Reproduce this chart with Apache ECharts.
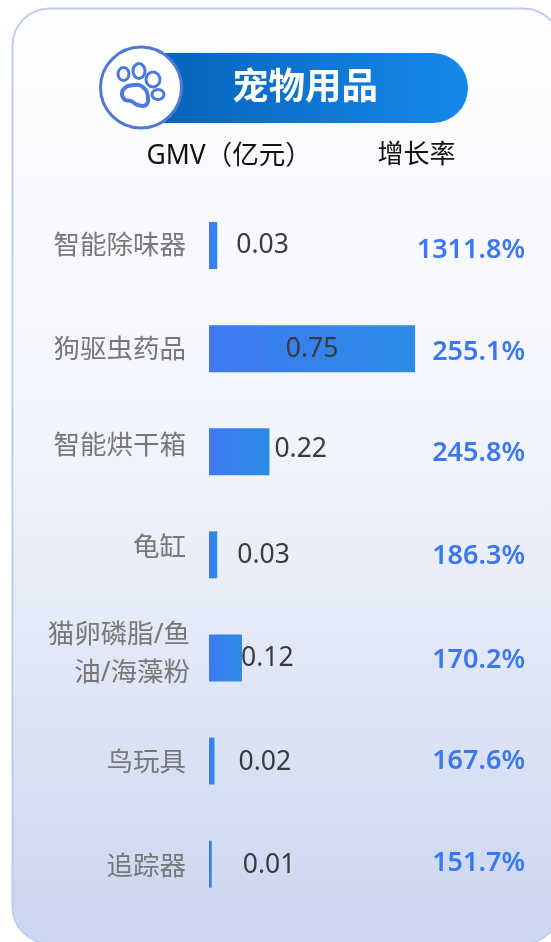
<!DOCTYPE html>
<html><head><meta charset="utf-8">
<style>html,body{margin:0;padding:0;background:#fff}#c{width:551px;height:942px}</style>
<script src="https://cdn.jsdelivr.net/npm/echarts@6/dist/echarts.min.js"></script>
</head><body><div id="c"></div>
<script>
const categories = ['智能除味器','狗驱虫药品','智能烘干箱','龟缸','猫卵磷脂/鱼\n油/海藻粉','鸟玩具','追踪器'];
const gmv = [0.03,0.75,0.22,0.03,0.12,0.02,0.01];
const growth = ['1311.8%','255.1%','245.8%','186.3%','170.2%','167.6%','151.7%'];
const title = '宠物用品';
const headGmv = 'GMV（亿元）';
const headGrowth = '增长率';

const font = '"Noto Sans","Noto Sans CJK SC",sans-serif';
// layout nudges, separate from the data
const valueOffset = [[19,0],[0,0.5],[5,-2],[20,1],[-1,1],[24,1],[31,1]];
const catPad = [[2,4,0,0],[4,4,0,0],[0,4,10,0],[0,4,12,0],[0,0,0,0],[5,4,0,0],[7,4,0,0]];
const growthPad = [[9,0,0,0],[8,0,0,0],[4,0,0,0],[2,0,0,0],[4,0,0,0],[0,0,0,0],[0,0,2,0]];

const rich = {sp:{fontSize:6,lineHeight:6}};
categories.forEach((c,i)=>{rich['c'+i]={fontSize:26.5,lineHeight:38,color:'#777777',fontFamily:font,padding:catPad[i],align:'right'};});
const growthRich = {};
growth.forEach((c,i)=>{growthRich['g'+i]={color:'#3b78f0',fontSize:27,fontWeight:600,fontFamily:font,padding:growthPad[i]};});

const barColor = {type:'linear',x:0,y:0,x2:1,y2:0,colorStops:[{offset:0,color:'#4079f4'},{offset:1,color:'#2a8ce4'}]};

const chart = echarts.init(document.getElementById('c'),null,{renderer:'canvas'});
const paw = {stroke:'#4c79e0',fill:'#fff',lineWidth:3};
chart.setOption({
  animation:false,
  backgroundColor:'#ffffff',
  graphic:{elements:[
    {type:'rect',z:-10,silent:true,shape:{x:12.5,y:8.5,width:548,height:935,r:37},
     style:{fill:{type:'linear',x:0,y:0,x2:0,y2:1,colorStops:[{offset:0,color:'#ffffff'},{offset:0.22,color:'#f9fafe'},{offset:0.5,color:'#f0f3fb'},{offset:0.96,color:'#cdd8f0'},{offset:1,color:'#cdd8f0'}]},stroke:'#bccdf0',lineWidth:2}},
    {type:'rect',z:1,shape:{x:140,y:53,width:328,height:70,r:[0,35,35,0]},
     style:{fill:{type:'linear',x:0,y:0,x2:1,y2:0,colorStops:[{offset:0,color:'#0562b6'},{offset:1,color:'#1788ec'}]}}},
    {type:'circle',z:2,shape:{cx:141,cy:87.5,r:40.5},style:{fill:'#fff',stroke:'#4f79d4',lineWidth:3}},
    {type:'ellipse',z:3,shape:{cx:123.5,cy:74,rx:5.5,ry:6.5},style:paw},
    {type:'ellipse',z:3,shape:{cx:139,cy:71,rx:6,ry:7.5},style:paw},
    {type:'ellipse',z:3,shape:{cx:153,cy:79.5,rx:7,ry:7.5},style:paw},
    {type:'ellipse',z:3,shape:{cx:158,cy:94.5,rx:6,ry:5},style:paw},
    {type:'polygon',z:3,shape:{points:[[134,85],[144,88],[148,98],[146,105],[138,105],[131,101],[124,99],[123,90]],smooth:0.5},style:{fill:'#fff',stroke:'#4c79e0',lineWidth:4}},
    {type:'text',z:3,style:{text:title,x:305,y:89,align:'center',verticalAlign:'middle',fill:'#fff',font:'600 36.5px '+font}},
    {type:'text',z:3,style:{text:headGmv,x:146.5,y:156,align:'left',verticalAlign:'middle',fill:'#111',font:'400 26.5px '+font}},
    {type:'text',z:3,style:{text:headGrowth,x:377.5,y:156,align:'left',verticalAlign:'middle',fill:'#111',font:'400 26px '+font}}
  ]},
  grid:{left:209,right:26,top:194,height:721.7},
  xAxis:{type:'value',min:0,max:1.15,show:false},
  yAxis:[
    {type:'category',inverse:true,data:categories,axisLine:{show:false},axisTick:{show:false},
     axisLabel:{margin:19,interval:0,rich,
       formatter:(v,i)=>v.split('\n').map(s=>'{c'+i+'|'+s+'}').join('\n')+(v.includes('\n')?'\n{sp| }':'')}},
    {type:'category',inverse:true,position:'right',data:growth,axisLine:{show:false},axisTick:{show:false},
     axisLabel:{margin:0,interval:0,align:'right',rich:growthRich,
       formatter:(v,i)=>'{g'+i+'|'+v+'}'}}
  ],
  series:[{type:'bar',barWidth:47,data:gmv.map((v,i)=>({value:v,
      label:{show:true,position:i===1?'inside':'right',distance:0,
             offset:valueOffset[i],fontSize:26.5,color:'#3a3a3a',fontFamily:font}})),
    itemStyle:{color:barColor}}]
});
</script></body></html>
